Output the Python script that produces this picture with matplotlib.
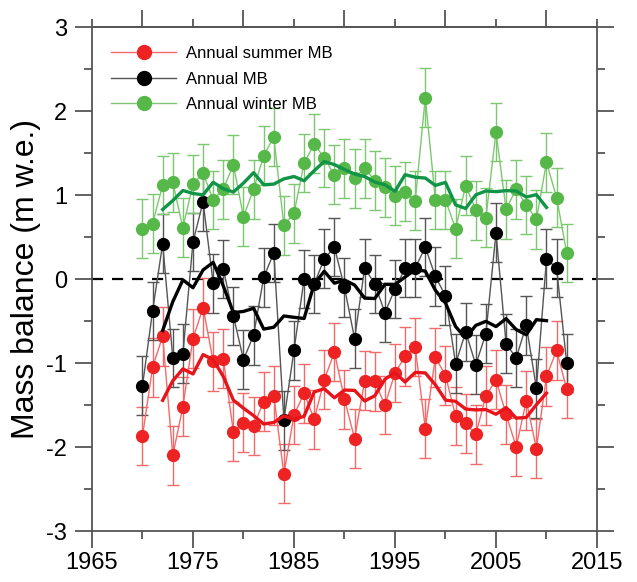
import numpy as np
import pandas as pd
import matplotlib
matplotlib.use("Agg")
import matplotlib.pyplot as plt
from matplotlib.ticker import MultipleLocator

plt.rcParams['font.family'] = ['Liberation Sans', 'DejaVu Sans']
plt.rcParams['axes.unicode_minus'] = False

# Data (m w.e.)
years = list(range(1970, 2013))

winter_mb = [0.60, 0.66, 1.12, 1.15, 0.61, 1.13, 1.26, 0.94, 1.07, 1.36,
             0.74, 1.07, 1.47, 1.69, 0.64, 0.78, 1.38, 1.61, 1.44, 1.24,
             1.32, 1.20, 1.32, 1.17, 1.09, 0.99, 1.04, 0.93, 2.16, 0.94,
             0.94, 0.60, 1.11, 0.82, 0.73, 1.75, 0.83, 1.07, 0.88, 0.71,
             1.39, 0.97, 0.31]

summer_mb = [-1.87, -1.05, -0.68, -2.10, -1.52, -0.71, -0.34, -0.98, -0.95, -1.82,
             -1.71, -1.75, -1.46, -1.39, -2.32, -1.62, -1.36, -1.67, -1.20, -0.87,
             -1.43, -1.90, -1.21, -1.22, -1.50, -1.12, -0.92, -0.81, -1.78, -0.93,
             -1.15, -1.63, -1.72, -1.85, -1.39, -1.20, -1.61, -2.00, -1.45, -2.02,
             -1.16, -0.85, -1.31]

annual_mb = [-1.27, -0.38, 0.42, -0.94, -0.89, 0.44, 0.92, -0.05, 0.12, -0.44,
             -0.96, -0.67, 0.02, 0.31, -1.68, -0.85, 0.00, -0.06, 0.24, 0.38,
             -0.10, -0.71, 0.13, -0.06, -0.40, -0.12, 0.13, 0.13, 0.38, 0.03,
             -0.20, -1.01, -0.63, -1.02, -0.65, 0.55, -0.77, -0.94, -0.55, -1.30,
             0.24, 0.13, -1.00]

err = 0.35

df = pd.DataFrame({'year': years, 'summer': summer_mb,
                   'annual': annual_mb, 'winter': winter_mb})

# 5-year running means
run = df[['summer', 'annual', 'winter']].rolling(5, center=True).mean()

fig = plt.figure(figsize=(6.37, 5.82), dpi=100)
ax = fig.add_axes([0.1444, 0.0876, 0.7928, 0.866])

series = [
    ('summer', 'Annual summer MB', '#ee2222', '#f26a6a', '#e8141c'),
    ('annual', 'Annual MB', '#000000', '#555555', '#000000'),
    ('winter', 'Annual winter MB', '#55b848', '#7cc870', '#119447'),
]

ax.axhline(0, color='black', lw=1.6, ls=(0, (5, 4)), zorder=1)

handles = []
for col, label, c_pt, c_light, c_run in series:
    ax.errorbar(df['year'], df[col], yerr=err, fmt='none', ecolor=c_light,
                elinewidth=1.0, capsize=4.5, capthick=1.0, zorder=2)
    ax.plot(df['year'], df[col], color=c_light, lw=1.0, zorder=3)
    ax.plot(df['year'], df[col], ls='none', marker='o', ms=8.5,
            mfc=c_pt, mec=c_pt, zorder=4)
    ax.plot(df['year'], run[col], color=c_run, lw=2.4, zorder=5)
    h, = ax.plot([], [], color=c_light, lw=1.0, marker='o', ms=10,
                 mfc=c_pt, mec=c_pt)
    handles.append((h, label))

leg = ax.legend([h for h, _ in handles], [l for _, l in handles],
                loc='upper left', bbox_to_anchor=(0.0, 1.0), frameon=False,
                fontsize=12, handlelength=3.9, handletextpad=0.6,
                labelspacing=0.62, borderaxespad=0.75)

ax.set_xlim(1965, 2015)
ax.set_ylim(-3, 3)
ax.set_xticks(range(1965, 2016, 10))
ax.set_xticks(range(1970, 2011, 10), minor=True)
ax.yaxis.set_major_locator(MultipleLocator(1))
ax.yaxis.set_minor_locator(MultipleLocator(0.5))

spine_c = '#555555'
for s in ax.spines.values():
    s.set_color(spine_c)
    s.set_linewidth(1.3)

ax.tick_params(which='major', direction='out', length=12, width=1.3,
               color=spine_c, labelsize=17, right=True)
ax.tick_params(which='minor', direction='out', length=6, width=1.3,
               color=spine_c, right=True)
ax.tick_params(axis='y', pad=6)
ax.tick_params(axis='x', pad=3)

top = ax.secondary_xaxis('top')
top.set_xticks(range(1970, 2011, 10))
top.set_xticks(range(1965, 2016, 10), minor=True)
top.tick_params(which='major', direction='out', length=12, width=1.3,
                color=spine_c, labeltop=False)
top.tick_params(which='minor', direction='out', length=6, width=1.3,
                color=spine_c)
top.spines['top'].set_color(spine_c)
top.spines['top'].set_linewidth(1.3)

ax.set_ylabel('Mass balance (m w.e.)', fontsize=23, labelpad=4)

fig.savefig('out.png', dpi=100)
